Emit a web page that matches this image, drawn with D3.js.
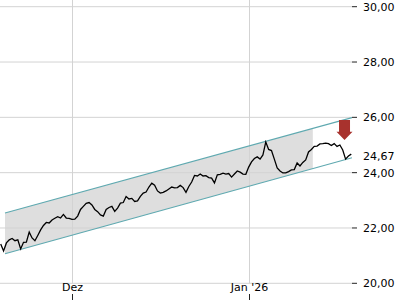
<!DOCTYPE html>
<html>
<head>
<meta charset="utf-8">
<script src="https://cdn.jsdelivr.net/npm/d3@7"></script>
<style>
  body { margin: 0; background: #fff; }
  text { font-family: "DejaVu Sans", sans-serif; font-size: 11px; fill: #000; }
</style>
</head>
<body>
<div id="chart"></div>
<script>

// price series, one value every 12 hours from the first stamp
var priceStart = "2025-11-18T12:00";
var priceStepHours = 12;
var prices = [
  21.42, 21.17, 21.46, 21.57, 21.62, 21.54, 21.57, 21.24, 21.48, 21.49,
  21.85, 21.64, 21.54, 21.73, 21.93, 22.09, 22.20, 22.18, 22.29, 22.35,
  22.41, 22.36, 22.49, 22.36, 22.35, 22.31, 22.32, 22.43, 22.67, 22.78,
  22.89, 22.92, 22.83, 22.67, 22.59, 22.47, 22.43, 22.67, 22.74, 22.78,
  22.60, 22.72, 22.90, 22.92, 23.14, 23.05, 23.07, 22.96, 22.98, 23.14,
  23.26, 23.30, 23.48, 23.62, 23.55, 23.34, 23.26, 23.29, 23.34, 23.41,
  23.48, 23.45, 23.46, 23.54, 23.46, 23.29, 23.50, 23.66, 23.90, 23.88,
  23.95, 23.88, 23.89, 23.82, 23.80, 23.63, 23.92, 23.94, 23.98, 23.95,
  23.97, 23.84, 23.95, 24.06, 24.02, 23.95, 23.94, 24.20, 24.39, 24.51,
  24.57, 24.49, 24.64, 25.11, 24.84, 24.80, 24.49, 24.17, 24.06, 23.99,
  23.99, 24.04, 24.10, 24.11, 24.35, 24.24, 24.37, 24.46, 24.75, 24.84,
  24.95, 24.96, 25.04, 25.05, 25.07, 25.05, 24.98, 25.05, 24.95, 25.00,
  24.82, 24.49, 24.60, 24.67
];

// trend channel
var channelDates = ["2025-11-19T06:00", "2026-01-19T03:00"];
var channelUpper = [22.54, 25.99];
var channelLower = [21.07, 24.54];
var channelFillEnd = "2026-01-12T06:00";

// axes
var xDomain = ["2025-11-18T09:00", "2026-01-19T03:00"];
var yDomain = [20, 30];
var yTicks = [20, 22, 24, 26, 28, 30];
var xTickDates = ["2025-12-01T00:00", "2026-01-01T00:00"];
var xTickLabels = ["Dez", "Jan '26"];

// signal arrow (down)
var arrowDate = "2026-01-17T19:30";
var arrowTop = 25.90;
var arrowTip = 25.18;

var parse = d3.isoParse;
var de = d3.formatLocale({decimal: ",", thousands: ".", grouping: [3], currency: ["", "€"]});
var fmt = de.format(".2f");

var W = 400, H = 300;
var plotRight = 352, plotTop = 6.7, plotBottom = 283.3;

var svg = d3.select("#chart").append("svg")
    .attr("width", W)
    .attr("height", H);

var x = d3.scaleTime()
    .domain(xDomain.map(parse))
    .range([0, plotRight]);

var y = d3.scaleLinear()
    .domain(yDomain)
    .range([plotBottom, plotTop]);

var t0 = parse(priceStart);
var data = prices.map(function(v, i) {
  return {date: new Date(t0.getTime() + i * priceStepHours * 3600e3), value: v};
});

// channel fill
var cd = channelDates.map(parse);
var upAt = d3.scaleTime().domain(cd).range(channelUpper);
var loAt = d3.scaleTime().domain(cd).range(channelLower);
var fillEnd = parse(channelFillEnd);
var fillPts = [
  [x(cd[0]), y(upAt(cd[0]))],
  [x(fillEnd), y(upAt(fillEnd))],
  [x(fillEnd), y(loAt(fillEnd))],
  [x(cd[0]), y(loAt(cd[0]))]
];
svg.append("path")
    .attr("d", "M" + fillPts.join("L") + "Z")
    .attr("fill", "#dedede");

// grid
svg.append("g").selectAll("line").data(yTicks).enter().append("line")
    .attr("x1", 0).attr("x2", plotRight)
    .attr("y1", function(d) { return y(d); })
    .attr("y2", function(d) { return y(d); })
    .attr("stroke", "#d3d3d3")
    .attr("stroke-width", 1);

svg.append("g").selectAll("line").data(xTickDates).enter().append("line")
    .attr("x1", function(d) { return Math.round(x(parse(d))) + 0.5; })
    .attr("x2", function(d) { return Math.round(x(parse(d))) + 0.5; })
    .attr("y1", 0).attr("y2", plotBottom)
    .attr("stroke", "#d3d3d3")
    .attr("stroke-width", 1);

// channel lines
[channelUpper, channelLower].forEach(function(vals) {
  svg.append("line")
      .attr("x1", x(cd[0])).attr("y1", y(vals[0]))
      .attr("x2", x(cd[1])).attr("y2", y(vals[1]))
      .attr("stroke", "#5fa9b0")
      .attr("stroke-width", 1.2);
});

// price line
svg.append("path")
    .datum(data)
    .attr("fill", "none")
    .attr("stroke", "#000")
    .attr("stroke-width", 1.3)
    .attr("stroke-linejoin", "miter")
    .attr("d", d3.line()
      .x(function(d) { return x(d.date); })
      .y(function(d) { return y(d.value); }));

// right axis
var yAxis = svg.append("g");
yAxis.selectAll("line").data(yTicks).enter().append("line")
    .attr("x1", plotRight).attr("x2", plotRight + 5)
    .attr("y1", function(d) { return y(d); })
    .attr("y2", function(d) { return y(d); })
    .attr("stroke", "#222");
yAxis.selectAll("text").data(yTicks).enter().append("text")
    .attr("x", plotRight + 11)
    .attr("y", function(d) { return y(d); })
    .attr("dy", "0.36em")
    .text(function(d) { return fmt(d); });

var last = data[data.length - 1];
svg.append("text")
    .attr("x", plotRight + 11)
    .attr("y", y(last.value) + 2)
    .attr("dy", "0.36em")
    .text(fmt(last.value));

// bottom axis
var xAxis = svg.append("g");
xTickDates.forEach(function(d, i) {
  var px = Math.round(x(parse(d))) + 0.5;
  xAxis.append("text")
      .attr("x", px)
      .attr("y", 291)
      .attr("text-anchor", "middle")
      .text(xTickLabels[i]);
  xAxis.append("line")
      .attr("x1", px).attr("x2", px)
      .attr("y1", 294).attr("y2", 300)
      .attr("stroke", "#222");
});

// down arrow
var ax = x(parse(arrowDate));
var ay0 = y(arrowTop), ay1 = y(arrowTip);
var headH = (ay1 - ay0) * 0.42;
var shaftW = 5.5, headW = 8;
var arrow = [
  [ax - shaftW, ay0], [ax + shaftW, ay0], [ax + shaftW, ay1 - headH],
  [ax + headW, ay1 - headH], [ax, ay1], [ax - headW, ay1 - headH],
  [ax - shaftW, ay1 - headH]
];
svg.append("path")
    .attr("d", "M" + arrow.join("L") + "Z")
    .attr("fill", "#a8322d");

</script>
</body>
</html>
